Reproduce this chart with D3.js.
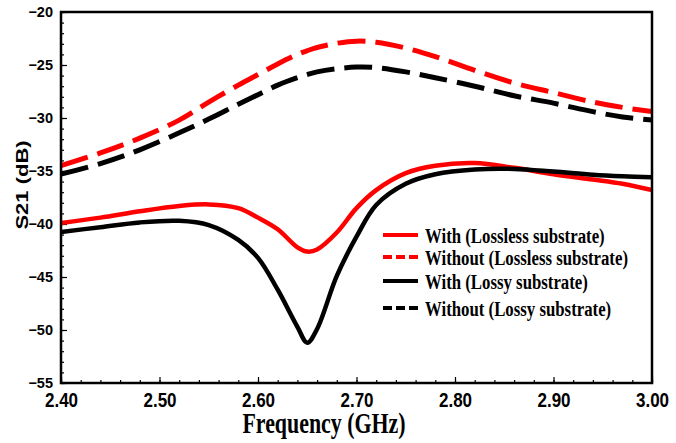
<!DOCTYPE html>
<html>
<head>
<meta charset="utf-8">
<script src="https://cdn.jsdelivr.net/npm/d3@7"></script>
<style>
  body { margin: 0; background: #fff; }
  .tick text { font-family: "Liberation Sans", Arial, sans-serif; font-weight: bold; fill: #000; }
</style>
</head>
<body>
<div class="chart"></div>
<script>
// frequency samples (GHz)
var freq = [2.40, 2.44, 2.48, 2.52, 2.55, 2.58, 2.60, 2.62, 2.64, 2.65, 2.66, 2.68,
            2.70, 2.72, 2.75, 2.78, 2.82, 2.86, 2.90, 2.94, 2.97, 3.00];

// S21 (dB)
var withLossless = [-39.9, -39.4, -38.8, -38.3, -38.15, -38.5, -39.4, -40.5, -42.2, -42.6, -42.4, -40.8,
                    -38.5, -36.8, -35.2, -34.5, -34.25, -34.7, -35.3, -35.8, -36.2, -36.8];
var withoutLossless = [-34.5, -33.3, -31.9, -30.2, -28.5, -26.9, -25.9, -24.9, -24.0, -23.65, -23.35, -22.95,
                       -22.75, -22.85, -23.4, -24.2, -25.5, -26.7, -27.6, -28.5, -29.0, -29.4];
var withLossy = [-40.75, -40.3, -39.85, -39.7, -40.1, -41.5, -43.2, -46.2, -49.7, -51.2, -49.9, -44.9,
                 -41.2, -38.2, -36.2, -35.3, -34.85, -34.8, -35.05, -35.35, -35.5, -35.6];
var withoutLossy = [-35.3, -34.3, -33.0, -31.4, -30.1, -28.7, -27.8, -26.9, -26.2, -25.9, -25.65, -25.35,
                    -25.2, -25.25, -25.65, -26.2, -27.0, -27.9, -28.6, -29.4, -29.9, -30.2];

var xTicks = [2.40, 2.50, 2.60, 2.70, 2.80, 2.90, 3.00];
var yTicks = [-55, -50, -45, -40, -35, -30, -25, -20];

var seriesNames = ["With (Lossless substrate)", "Without (Lossless substrate)",
                   "With (Lossy substrate)", "Without (Lossy substrate)"];
var seriesData = [withLossless, withoutLossless, withLossy, withoutLossy];
var seriesColors = ["#ff0000", "#ff0000", "#000000", "#000000"];
var seriesDashed = [false, true, false, true];

var width = 676, height = 443;
var pLeft = 61, pRight = 652, pTop = 12, pBottom = 383;

var svg = d3.select(".chart").append("svg")
    .attr("width", width)
    .attr("height", height);

var x = d3.scaleLinear().domain([2.4, 3.0]).range([pLeft, pRight]);
var y = d3.scaleLinear().domain([-55, -20]).range([pBottom, pTop]);

svg.append("clipPath").attr("id", "plotclip")
  .append("rect")
    .attr("x", pLeft).attr("y", pTop)
    .attr("width", pRight - pLeft).attr("height", pBottom - pTop);

// minor ticks
svg.append("g")
    .attr("transform", "translate(0," + pBottom + ")")
    .call(d3.axisBottom(x).tickValues(d3.range(240, 301, 2).map(function(d) { return d / 100; }))
      .tickSize(-3).tickFormat(""))
    .call(function(g) { g.select(".domain").remove(); });

svg.append("g")
    .attr("transform", "translate(" + pLeft + ",0)")
    .call(d3.axisLeft(y).tickValues(d3.range(-55, -19, 1)).tickSize(-3).tickFormat(""))
    .call(function(g) { g.select(".domain").remove(); });

// major ticks + labels
var xAxis = svg.append("g")
    .attr("transform", "translate(0," + pBottom + ")")
    .call(d3.axisBottom(x).tickValues(xTicks).tickSize(-6).tickPadding(10)
      .tickFormat(d3.format(".2f")));
xAxis.select(".domain").remove();
xAxis.selectAll(".tick text")
    .style("font-size", "20px")
    .attr("transform", "scale(0.85,1)");

var yAxis = svg.append("g")
    .attr("transform", "translate(" + pLeft + ",0)")
    .call(d3.axisLeft(y).tickValues(yTicks).tickSize(-6).tickPadding(8));
yAxis.select(".domain").remove();
yAxis.selectAll(".tick text")
    .style("font-size", "14.5px");

svg.selectAll(".tick line").attr("stroke", "#000").attr("stroke-width", 1.2);

// curves
var line = d3.line()
    .x(function(d) { return x(d[0]); })
    .y(function(d) { return y(d[1]); })
    .curve(d3.curveCatmullRom.alpha(0.5));

var plot = svg.append("g").attr("clip-path", "url(#plotclip)");

seriesData.forEach(function(vals, i) {
  plot.append("path")
      .datum(freq.map(function(f, j) { return [f, vals[j]]; }))
      .attr("fill", "none")
      .attr("stroke", seriesColors[i])
      .attr("stroke-width", seriesDashed[i] ? 5 : 4.5)
      .attr("stroke-dasharray", seriesDashed[i] ? "28,10" : null)
      .attr("d", line);
});

// frame
svg.append("rect")
    .attr("x", pLeft).attr("y", pTop)
    .attr("width", pRight - pLeft).attr("height", pBottom - pTop)
    .attr("fill", "none")
    .attr("stroke", "#000")
    .attr("stroke-width", 2.5);

// axis titles
svg.append("text")
    .attr("transform", "translate(324,433) scale(0.73,1)")
    .attr("text-anchor", "middle")
    .style("font-family", "'Liberation Serif', 'Times New Roman', serif")
    .style("font-weight", "bold")
    .style("font-size", "30px")
    .text("Frequency (GHz)");

svg.append("text")
    .attr("transform", "translate(28,185) rotate(-90) scale(1,0.72)")
    .attr("text-anchor", "middle")
    .style("font-family", "'Liberation Sans', Arial, sans-serif")
    .style("font-weight", "bold")
    .style("font-size", "22px")
    .text("S21 (dB)");

// legend
var legendY = [235, 257, 281, 308];
var legend = svg.append("g");
seriesNames.forEach(function(name, i) {
  legend.append("line")
      .attr("x1", 383).attr("x2", 418)
      .attr("y1", legendY[i]).attr("y2", legendY[i])
      .attr("stroke", seriesColors[i])
      .attr("stroke-width", 4)
      .attr("stroke-dasharray", seriesDashed[i] ? "9,4" : null);
  legend.append("text")
      .attr("transform", "translate(425," + (legendY[i] + 8) + ") scale(0.84,1)")
      .style("font-family", "'Liberation Serif', 'Times New Roman', serif")
      .style("font-weight", "bold")
      .style("font-size", "20px")
      .text(name);
});
</script>
</body>
</html>
